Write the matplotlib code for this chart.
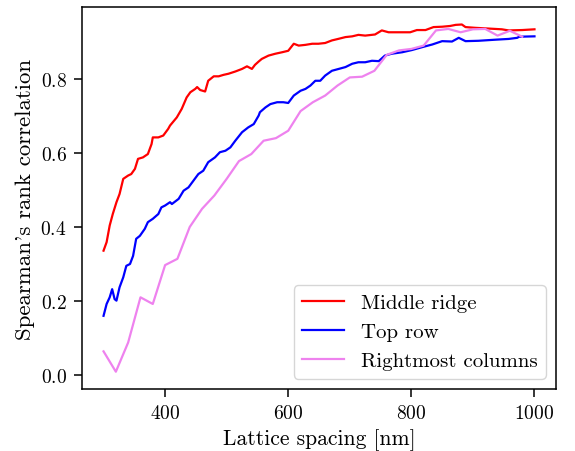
import matplotlib
matplotlib.use('Agg')
import matplotlib.pyplot as plt
import numpy as np

plt.rcParams['font.family'] = 'serif'
plt.rcParams['font.serif'] = ['cmr10']
plt.rcParams['mathtext.fontset'] = 'cm'
plt.rcParams['axes.unicode_minus'] = False
plt.rcParams['axes.formatter.use_mathtext'] = True
plt.rcParams['font.size'] = 14

# Middle ridge (dense curve, traced)
ridge_x = [300, 305, 310, 315, 321, 326, 332, 340, 345, 351, 356, 364, 372, 378, 380,
           389, 397, 405, 408, 419, 427, 435, 441, 449, 452, 457, 465, 470, 479, 487,
           495, 503, 514, 525, 533, 541, 546, 552, 557, 568, 579, 590, 600, 609, 617,
           628, 639, 649, 660, 671, 681, 693, 704, 714, 725, 741, 752, 763, 779, 798,
           809, 823, 836, 850, 863, 872, 882, 888, 904, 926, 947, 958, 980, 1000]
ridge_y = [0.336, 0.359, 0.404, 0.435, 0.467, 0.489, 0.530, 0.539, 0.543, 0.557, 0.584,
           0.588, 0.597, 0.624, 0.642, 0.642, 0.647, 0.665, 0.674, 0.696, 0.719, 0.750,
           0.764, 0.773, 0.778, 0.770, 0.766, 0.795, 0.807, 0.807, 0.811, 0.814, 0.820,
           0.827, 0.834, 0.827, 0.838, 0.847, 0.854, 0.863, 0.868, 0.872, 0.876, 0.895,
           0.890, 0.892, 0.895, 0.895, 0.897, 0.904, 0.908, 0.913, 0.915, 0.919, 0.917,
           0.920, 0.931, 0.926, 0.926, 0.926, 0.932, 0.932, 0.940, 0.941, 0.943, 0.946,
           0.947, 0.940, 0.938, 0.936, 0.934, 0.931, 0.932, 0.934]

# Top row (dense curve, traced)
top_x = [300, 305, 310, 314, 318, 321, 326, 332, 337, 343, 348, 353, 359, 367, 372,
         380, 389, 394, 400, 408, 411, 422, 430, 438, 446, 454, 462, 470, 481, 489,
         498, 506, 514, 525, 535, 544, 552, 554, 563, 571, 582, 592, 600, 609, 620,
         628, 636, 644, 652, 660, 671, 682, 693, 704, 714, 725, 736, 747, 757, 768,
         785, 801, 818, 834, 850, 866, 877, 888, 909, 937, 958, 972, 975, 1000]
top_y = [0.160, 0.192, 0.210, 0.232, 0.205, 0.201, 0.237, 0.264, 0.295, 0.300, 0.322,
         0.368, 0.376, 0.395, 0.413, 0.422, 0.435, 0.453, 0.458, 0.467, 0.462, 0.476,
         0.498, 0.507, 0.525, 0.543, 0.552, 0.575, 0.588, 0.602, 0.606, 0.615, 0.633,
         0.656, 0.669, 0.678, 0.701, 0.710, 0.723, 0.732, 0.737, 0.737, 0.735, 0.755,
         0.768, 0.773, 0.782, 0.795, 0.795, 0.809, 0.822, 0.827, 0.832, 0.841, 0.845,
         0.845, 0.849, 0.848, 0.863, 0.868, 0.872, 0.878, 0.886, 0.893, 0.902, 0.901,
         0.911, 0.902, 0.903, 0.906, 0.908, 0.911, 0.914, 0.915]

# Rightmost columns (sampled every 20 nm)
cols_x = list(range(300, 1000, 20))
cols_y = [0.064, 0.009, 0.088, 0.210, 0.192, 0.297, 0.314, 0.400, 0.449, 0.485,
          0.530, 0.578, 0.597, 0.633, 0.640, 0.660, 0.713, 0.737, 0.755, 0.782,
          0.804, 0.806, 0.822, 0.865, 0.877, 0.881, 0.890, 0.931, 0.935, 0.926,
          0.934, 0.935, 0.917, 0.930, 0.914]

fig = plt.figure(figsize=(5.75, 4.52), dpi=100)
ax = fig.add_axes([0.1426, 0.137, 0.8244, 0.845])

ax.plot(ridge_x, ridge_y, color='red', lw=1.6, label='Middle ridge')
ax.plot(top_x, top_y, color='blue', lw=1.6, label='Top row')
ax.plot(cols_x, cols_y, color='violet', lw=1.6, label='Rightmost columns')

ax.set_xlabel('Lattice spacing [nm]', fontsize=15.5)
ax.set_ylabel("Spearman's rank correlation", fontsize=16.5)
ax.set_xticks([400, 600, 800, 1000])
ax.set_yticks([0.0, 0.2, 0.4, 0.6, 0.8])
ax.tick_params(labelsize=14, length=6, pad=5, width=1.1)
for s in ax.spines.values():
    s.set_linewidth(1.1)
ax.legend(loc='lower right', fontsize=15)

fig.savefig('out.png', dpi=100)
